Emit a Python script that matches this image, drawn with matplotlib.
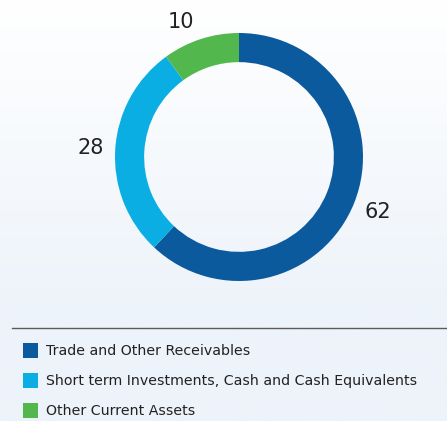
import numpy as np
import matplotlib.pyplot as plt
from matplotlib.patches import Rectangle
from matplotlib.lines import Line2D

# data
categories = ["Trade and Other Receivables",
              "Short term Investments, Cash and Cash Equivalents",
              "Other Current Assets"]
values = [62, 28, 10]
colors = ["#0b5a9e", "#0aaee2", "#52b74c"]

W, H = 447, 421
fig = plt.figure(figsize=(W / 100, H / 100), dpi=100)

# background gradient (white at top -> pale blue)
bg = fig.add_axes([0, 0, 1, 1], zorder=-10)
grad = np.linspace(0, 1, 256).reshape(-1, 1)
top = np.array([1.0, 1.0, 1.0])
bot = np.array([0xed, 0xf3, 0xfa]) / 255
img = top + (bot - top) * np.clip(grad / 0.75, 0, 1)[..., None]
bg.imshow(img.reshape(256, 1, 3), aspect="auto", extent=[0, W, H, 0])
bg.set_xlim(0, W)
bg.set_ylim(H, 0)
bg.axis("off")

# separator line
bg.add_line(Line2D([12, W], [328, 328], color="#5a5a5a", lw=1.0))

# donut
cx, cy, r = 239, 157, 124
ax = fig.add_axes([(cx - r) / W, 1 - (cy + r) / H, 2 * r / W, 2 * r / H])
wedges, texts = ax.pie(values, colors=colors, startangle=90, counterclock=False,
                       labels=[str(v) for v in values], labeldistance=1.2,
                       wedgeprops=dict(width=0.235, edgecolor="none"),
                       textprops=dict(fontsize=15, color="#222222"))
for t in texts:
    t.set_ha("center")
    t.set_va("center")
# small slice label sits a bit further left in the original
texts[2].set_position((-0.47, 1.09))
ax.set_xlim(-1, 1)
ax.set_ylim(-1, 1)
ax.set_aspect("equal")

# legend
rows_y = [351, 381, 411]
for lab, col, y in zip(categories, colors, rows_y):
    bg.add_patch(Rectangle((23, y - 8), 15, 15, color=col, lw=0))
    bg.text(46, y, lab, fontsize=10.2, color="#222222", va="center", ha="left")

fig.savefig("out.png", dpi=100)
